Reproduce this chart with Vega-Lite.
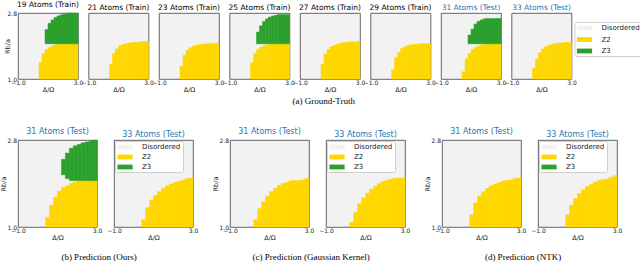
{
"$schema":"https://vega.github.io/schema/vega-lite/v6.json",
"padding":{"left":0,"top":0,"right":0,"bottom":0},
"align":"none",
"data":{"name":"cells"},
"datasets":{"cells":[
{"p":"a19","c":"Z2","x":0.4,"x2":0.6,"y":1,"y2":1.45},{"p":"a19","c":"Z2","x":0.6,"x2":0.8,"y":1,"y2":1.7},{"p":"a19","c":"Z2","x":0.8,"x2":1.0,"y":1,"y2":1.8},{"p":"a19","c":"Z2","x":1.0,"x2":1.2,"y":1,"y2":1.86},{"p":"a19","c":"Z2","x":1.2,"x2":1.4,"y":1,"y2":1.9},{"p":"a19","c":"Z2","x":1.4,"x2":1.6,"y":1,"y2":1.93},{"p":"a19","c":"Z2","x":1.6,"x2":2.0,"y":1,"y2":1.95},{"p":"a19","c":"Z2","x":2.0,"x2":3.0,"y":1,"y2":1.96},
{"p":"a19","c":"Z3","x":0.8,"x2":1.0,"y":1.96,"y2":2.35},{"p":"a19","c":"Z3","x":1.0,"x2":1.2,"y":1.96,"y2":2.52},{"p":"a19","c":"Z3","x":1.2,"x2":1.4,"y":1.96,"y2":2.61},{"p":"a19","c":"Z3","x":1.4,"x2":1.6,"y":1.96,"y2":2.68},{"p":"a19","c":"Z3","x":1.6,"x2":1.8,"y":1.96,"y2":2.72},{"p":"a19","c":"Z3","x":1.8,"x2":2.0,"y":1.96,"y2":2.75},{"p":"a19","c":"Z3","x":2.0,"x2":2.2,"y":1.96,"y2":2.77},{"p":"a19","c":"Z3","x":2.2,"x2":3.0,"y":1.96,"y2":2.8},
{"p":"a21","c":"Z2","x":0.4,"x2":0.6,"y":1,"y2":1.4},{"p":"a21","c":"Z2","x":0.6,"x2":0.8,"y":1,"y2":1.7},{"p":"a21","c":"Z2","x":0.8,"x2":1.0,"y":1,"y2":1.82},{"p":"a21","c":"Z2","x":1.0,"x2":1.2,"y":1,"y2":1.9},{"p":"a21","c":"Z2","x":1.2,"x2":1.4,"y":1,"y2":1.94},{"p":"a21","c":"Z2","x":1.4,"x2":1.6,"y":1,"y2":1.96},{"p":"a21","c":"Z2","x":1.6,"x2":1.8,"y":1,"y2":1.98},{"p":"a21","c":"Z2","x":1.8,"x2":2.0,"y":1,"y2":1.99},{"p":"a21","c":"Z2","x":2.0,"x2":2.4,"y":1,"y2":2.0},{"p":"a21","c":"Z2","x":2.4,"x2":3.0,"y":1,"y2":2.02},
{"p":"a23","c":"Z2","x":0.4,"x2":0.6,"y":1,"y2":1.35},{"p":"a23","c":"Z2","x":0.6,"x2":0.8,"y":1,"y2":1.65},{"p":"a23","c":"Z2","x":0.8,"x2":1.0,"y":1,"y2":1.78},{"p":"a23","c":"Z2","x":1.0,"x2":1.2,"y":1,"y2":1.85},{"p":"a23","c":"Z2","x":1.2,"x2":1.4,"y":1,"y2":1.89},{"p":"a23","c":"Z2","x":1.4,"x2":1.6,"y":1,"y2":1.92},{"p":"a23","c":"Z2","x":1.6,"x2":1.8,"y":1,"y2":1.94},{"p":"a23","c":"Z2","x":1.8,"x2":2.2,"y":1,"y2":1.95},{"p":"a23","c":"Z2","x":2.2,"x2":3.0,"y":1,"y2":1.97},
{"p":"a25","c":"Z2","x":0.4,"x2":0.6,"y":1,"y2":1.45},{"p":"a25","c":"Z2","x":0.6,"x2":0.8,"y":1,"y2":1.7},{"p":"a25","c":"Z2","x":0.8,"x2":1.0,"y":1,"y2":1.8},{"p":"a25","c":"Z2","x":1.0,"x2":1.2,"y":1,"y2":1.87},{"p":"a25","c":"Z2","x":1.2,"x2":1.4,"y":1,"y2":1.91},{"p":"a25","c":"Z2","x":1.4,"x2":1.6,"y":1,"y2":1.93},{"p":"a25","c":"Z2","x":1.6,"x2":1.8,"y":1,"y2":1.95},{"p":"a25","c":"Z2","x":1.8,"x2":3.0,"y":1,"y2":1.96},
{"p":"a25","c":"Z3","x":0.8,"x2":1.0,"y":1.96,"y2":2.28},{"p":"a25","c":"Z3","x":1.0,"x2":1.2,"y":1.96,"y2":2.45},{"p":"a25","c":"Z3","x":1.2,"x2":1.4,"y":1.96,"y2":2.57},{"p":"a25","c":"Z3","x":1.4,"x2":1.6,"y":1.96,"y2":2.64},{"p":"a25","c":"Z3","x":1.6,"x2":1.8,"y":1.96,"y2":2.69},{"p":"a25","c":"Z3","x":1.8,"x2":2.0,"y":1.96,"y2":2.72},{"p":"a25","c":"Z3","x":2.0,"x2":2.2,"y":1.96,"y2":2.74},{"p":"a25","c":"Z3","x":2.2,"x2":3.0,"y":1.96,"y2":2.76},
{"p":"a27","c":"Z2","x":0.4,"x2":0.6,"y":1,"y2":1.4},{"p":"a27","c":"Z2","x":0.6,"x2":0.8,"y":1,"y2":1.68},{"p":"a27","c":"Z2","x":0.8,"x2":1.0,"y":1,"y2":1.8},{"p":"a27","c":"Z2","x":1.0,"x2":1.2,"y":1,"y2":1.88},{"p":"a27","c":"Z2","x":1.2,"x2":1.4,"y":1,"y2":1.92},{"p":"a27","c":"Z2","x":1.4,"x2":1.6,"y":1,"y2":1.95},{"p":"a27","c":"Z2","x":1.6,"x2":1.8,"y":1,"y2":1.97},{"p":"a27","c":"Z2","x":1.8,"x2":2.0,"y":1,"y2":1.99},{"p":"a27","c":"Z2","x":2.0,"x2":2.4,"y":1,"y2":2.0},{"p":"a27","c":"Z2","x":2.4,"x2":3.0,"y":1,"y2":2.02},
{"p":"a29","c":"Z2","x":0.4,"x2":0.6,"y":1,"y2":1.25},{"p":"a29","c":"Z2","x":0.6,"x2":0.8,"y":1,"y2":1.58},{"p":"a29","c":"Z2","x":0.8,"x2":1.0,"y":1,"y2":1.72},{"p":"a29","c":"Z2","x":1.0,"x2":1.2,"y":1,"y2":1.83},{"p":"a29","c":"Z2","x":1.2,"x2":1.4,"y":1,"y2":1.88},{"p":"a29","c":"Z2","x":1.4,"x2":1.6,"y":1,"y2":1.91},{"p":"a29","c":"Z2","x":1.6,"x2":1.8,"y":1,"y2":1.93},{"p":"a29","c":"Z2","x":1.8,"x2":2.2,"y":1,"y2":1.95},{"p":"a29","c":"Z2","x":2.2,"x2":3.0,"y":1,"y2":1.96},
{"p":"a31","c":"Z2","x":0.4,"x2":0.6,"y":1,"y2":1.2},{"p":"a31","c":"Z2","x":0.6,"x2":0.8,"y":1,"y2":1.55},{"p":"a31","c":"Z2","x":0.8,"x2":1.0,"y":1,"y2":1.7},{"p":"a31","c":"Z2","x":1.0,"x2":1.2,"y":1,"y2":1.8},{"p":"a31","c":"Z2","x":1.2,"x2":1.4,"y":1,"y2":1.86},{"p":"a31","c":"Z2","x":1.4,"x2":1.6,"y":1,"y2":1.9},{"p":"a31","c":"Z2","x":1.6,"x2":1.8,"y":1,"y2":1.93},{"p":"a31","c":"Z2","x":1.8,"x2":2.0,"y":1,"y2":1.94},{"p":"a31","c":"Z2","x":2.0,"x2":3.0,"y":1,"y2":1.96},
{"p":"a31","c":"Z3","x":0.8,"x2":1.0,"y":1.96,"y2":2.2},{"p":"a31","c":"Z3","x":1.0,"x2":1.2,"y":1.96,"y2":2.36},{"p":"a31","c":"Z3","x":1.2,"x2":1.4,"y":1.96,"y2":2.5},{"p":"a31","c":"Z3","x":1.4,"x2":1.6,"y":1.96,"y2":2.57},{"p":"a31","c":"Z3","x":1.6,"x2":1.8,"y":1.96,"y2":2.61},{"p":"a31","c":"Z3","x":1.8,"x2":2.0,"y":1.96,"y2":2.64},{"p":"a31","c":"Z3","x":2.0,"x2":3.0,"y":1.96,"y2":2.65},
{"p":"a33","c":"Z2","x":0.4,"x2":0.6,"y":1,"y2":1.3},{"p":"a33","c":"Z2","x":0.6,"x2":0.8,"y":1,"y2":1.55},{"p":"a33","c":"Z2","x":0.8,"x2":1.0,"y":1,"y2":1.72},{"p":"a33","c":"Z2","x":1.0,"x2":1.2,"y":1,"y2":1.82},{"p":"a33","c":"Z2","x":1.2,"x2":1.4,"y":1,"y2":1.88},{"p":"a33","c":"Z2","x":1.4,"x2":1.6,"y":1,"y2":1.92},{"p":"a33","c":"Z2","x":1.6,"x2":1.8,"y":1,"y2":1.94},{"p":"a33","c":"Z2","x":1.8,"x2":2.0,"y":1,"y2":1.96},{"p":"a33","c":"Z2","x":2.0,"x2":2.4,"y":1,"y2":1.98},{"p":"a33","c":"Z2","x":2.4,"x2":3.0,"y":1,"y2":2.0},
{"p":"b31","c":"Z2","x":0.4,"x2":0.6,"y":1,"y2":1.2},{"p":"b31","c":"Z2","x":0.6,"x2":0.8,"y":1,"y2":1.45},{"p":"b31","c":"Z2","x":0.8,"x2":1.0,"y":1,"y2":1.62},{"p":"b31","c":"Z2","x":1.0,"x2":1.2,"y":1,"y2":1.74},{"p":"b31","c":"Z2","x":1.2,"x2":1.4,"y":1,"y2":1.82},{"p":"b31","c":"Z2","x":1.4,"x2":1.6,"y":1,"y2":1.86},{"p":"b31","c":"Z2","x":1.6,"x2":1.8,"y":1,"y2":1.9},{"p":"b31","c":"Z2","x":1.8,"x2":2.0,"y":1,"y2":1.93},{"p":"b31","c":"Z2","x":2.0,"x2":2.2,"y":1,"y2":1.95},{"p":"b31","c":"Z2","x":2.2,"x2":3.0,"y":1,"y2":1.96},
{"p":"b31","c":"Z3","x":1.2,"x2":1.4,"y":2.08,"y2":2.4},{"p":"b31","c":"Z3","x":1.4,"x2":1.6,"y":2.0,"y2":2.53},{"p":"b31","c":"Z3","x":1.6,"x2":1.8,"y":1.96,"y2":2.63},{"p":"b31","c":"Z3","x":1.8,"x2":2.0,"y":1.96,"y2":2.68},{"p":"b31","c":"Z3","x":2.0,"x2":2.2,"y":1.96,"y2":2.71},{"p":"b31","c":"Z3","x":2.2,"x2":2.4,"y":1.96,"y2":2.74},{"p":"b31","c":"Z3","x":2.4,"x2":2.6,"y":1.96,"y2":2.76},{"p":"b31","c":"Z3","x":2.6,"x2":2.8,"y":1.96,"y2":2.78},{"p":"b31","c":"Z3","x":2.8,"x2":3.0,"y":1.96,"y2":2.8},
{"p":"b33","c":"Z2","x":0.4,"x2":0.6,"y":1,"y2":1.15},{"p":"b33","c":"Z2","x":0.6,"x2":0.8,"y":1,"y2":1.4},{"p":"b33","c":"Z2","x":0.8,"x2":1.0,"y":1,"y2":1.56},{"p":"b33","c":"Z2","x":1.0,"x2":1.2,"y":1,"y2":1.65},{"p":"b33","c":"Z2","x":1.2,"x2":1.4,"y":1,"y2":1.73},{"p":"b33","c":"Z2","x":1.4,"x2":1.6,"y":1,"y2":1.8},{"p":"b33","c":"Z2","x":1.6,"x2":1.8,"y":1,"y2":1.85},{"p":"b33","c":"Z2","x":1.8,"x2":2.0,"y":1,"y2":1.89},{"p":"b33","c":"Z2","x":2.0,"x2":2.2,"y":1,"y2":1.92},{"p":"b33","c":"Z2","x":2.2,"x2":2.4,"y":1,"y2":1.95},{"p":"b33","c":"Z2","x":2.4,"x2":2.6,"y":1,"y2":1.97},{"p":"b33","c":"Z2","x":2.6,"x2":2.8,"y":1,"y2":2.0},{"p":"b33","c":"Z2","x":2.8,"x2":3.0,"y":1,"y2":2.01},
{"p":"c31","c":"Z2","x":0.2,"x2":0.4,"y":1,"y2":1.15},{"p":"c31","c":"Z2","x":0.4,"x2":0.6,"y":1,"y2":1.38},{"p":"c31","c":"Z2","x":0.6,"x2":0.8,"y":1,"y2":1.52},{"p":"c31","c":"Z2","x":0.8,"x2":1.0,"y":1,"y2":1.64},{"p":"c31","c":"Z2","x":1.0,"x2":1.2,"y":1,"y2":1.73},{"p":"c31","c":"Z2","x":1.2,"x2":1.4,"y":1,"y2":1.8},{"p":"c31","c":"Z2","x":1.4,"x2":1.6,"y":1,"y2":1.86},{"p":"c31","c":"Z2","x":1.6,"x2":1.8,"y":1,"y2":1.9},{"p":"c31","c":"Z2","x":1.8,"x2":2.0,"y":1,"y2":1.93},{"p":"c31","c":"Z2","x":2.0,"x2":2.6,"y":1,"y2":1.96},{"p":"c31","c":"Z2","x":2.6,"x2":2.8,"y":1,"y2":1.97},{"p":"c31","c":"Z2","x":2.8,"x2":3.0,"y":1,"y2":2.01},
{"p":"c33","c":"Z2","x":0.2,"x2":0.4,"y":1,"y2":1.1},{"p":"c33","c":"Z2","x":0.4,"x2":0.6,"y":1,"y2":1.3},{"p":"c33","c":"Z2","x":0.6,"x2":0.8,"y":1,"y2":1.48},{"p":"c33","c":"Z2","x":0.8,"x2":1.0,"y":1,"y2":1.6},{"p":"c33","c":"Z2","x":1.0,"x2":1.2,"y":1,"y2":1.7},{"p":"c33","c":"Z2","x":1.2,"x2":1.4,"y":1,"y2":1.78},{"p":"c33","c":"Z2","x":1.4,"x2":1.6,"y":1,"y2":1.84},{"p":"c33","c":"Z2","x":1.6,"x2":1.8,"y":1,"y2":1.9},{"p":"c33","c":"Z2","x":1.8,"x2":2.0,"y":1,"y2":1.94},{"p":"c33","c":"Z2","x":2.0,"x2":2.2,"y":1,"y2":1.97},{"p":"c33","c":"Z2","x":2.2,"x2":2.4,"y":1,"y2":1.99},{"p":"c33","c":"Z2","x":2.4,"x2":3.0,"y":1,"y2":2.01},
{"p":"d31","c":"Z2","x":0.4,"x2":0.6,"y":1,"y2":1.25},{"p":"d31","c":"Z2","x":0.6,"x2":0.8,"y":1,"y2":1.5},{"p":"d31","c":"Z2","x":0.8,"x2":1.0,"y":1,"y2":1.64},{"p":"d31","c":"Z2","x":1.0,"x2":1.2,"y":1,"y2":1.73},{"p":"d31","c":"Z2","x":1.2,"x2":1.4,"y":1,"y2":1.8},{"p":"d31","c":"Z2","x":1.4,"x2":1.6,"y":1,"y2":1.85},{"p":"d31","c":"Z2","x":1.6,"x2":1.8,"y":1,"y2":1.89},{"p":"d31","c":"Z2","x":1.8,"x2":2.0,"y":1,"y2":1.92},{"p":"d31","c":"Z2","x":2.0,"x2":2.2,"y":1,"y2":1.95},{"p":"d31","c":"Z2","x":2.2,"x2":2.6,"y":1,"y2":1.97},{"p":"d31","c":"Z2","x":2.6,"x2":3.0,"y":1,"y2":2.01},
{"p":"d33","c":"Z2","x":0.4,"x2":0.6,"y":1,"y2":1.25},{"p":"d33","c":"Z2","x":0.6,"x2":0.8,"y":1,"y2":1.45},{"p":"d33","c":"Z2","x":0.8,"x2":1.0,"y":1,"y2":1.59},{"p":"d33","c":"Z2","x":1.0,"x2":1.2,"y":1,"y2":1.69},{"p":"d33","c":"Z2","x":1.2,"x2":1.4,"y":1,"y2":1.77},{"p":"d33","c":"Z2","x":1.4,"x2":1.6,"y":1,"y2":1.84},{"p":"d33","c":"Z2","x":1.6,"x2":1.8,"y":1,"y2":1.88},{"p":"d33","c":"Z2","x":1.8,"x2":2.0,"y":1,"y2":1.93},{"p":"d33","c":"Z2","x":2.0,"x2":2.2,"y":1,"y2":1.96},{"p":"d33","c":"Z2","x":2.2,"x2":2.4,"y":1,"y2":1.98},{"p":"d33","c":"Z2","x":2.4,"x2":2.6,"y":1,"y2":1.99},{"p":"d33","c":"Z2","x":2.6,"x2":2.8,"y":1,"y2":2.03},{"p":"d33","c":"Z2","x":2.8,"x2":3.0,"y":1,"y2":2.06}
]},
"config":{
"font":"DejaVu Sans",
"view":{"fill":"#f2f2f2","stroke":"#404040","strokeWidth":0.8},
"axis":{"grid":false,"domain":false,"ticks":false,"labelFontSize":6,"titleFontSize":6.5,"titleFontWeight":"normal","labelColor":"#222222","titleColor":"#222222","labelFlush":false,"labelOverlap":false,"labelPadding":1.5,"titlePadding":0.5},
"axisX":{"labelPadding":0.5},
"title":{"fontSize":7.5,"fontWeight":"normal","offset":1.5,"color":"#000000","font":"DejaVu Sans"},
"legend":{"symbolType":"M-1.9,-0.6H1.9V0.6H-1.9Z","symbolSize":64,"symbolOffset":4,"labelOffset":13,"padding":2,"labelFontSize":7,"labelColor":"#222222","strokeColor":"#d0d0d0","fillColor":"#ffffff","cornerRadius":2,"rowPadding":3,"symbolStrokeWidth":0}
},
"resolve":{"scale":{"color":"independent","stroke":"independent"},"legend":{"color":"independent"}},
"spacing":21,
"vconcat":[
{"hconcat":[
{"width":60,"height":66,"title":{"text":"19 Atoms (Train)"},"transform":[{"filter":"datum.p=='a19'"}],"mark":{"type":"rect","strokeWidth":0.5},
"encoding":{"x":{"field":"x","type":"quantitative","scale":{"domain":[-1,3],"nice":false,"zero":false},"axis":{"values":[-1,3],"format":".1f","title":"Δ/Ω"}},"x2":{"field":"x2"},
"y":{"field":"y","type":"quantitative","scale":{"domain":[1,2.8],"nice":false,"zero":false},"axis":{"values":[1,2.8],"format":".1f","title":"Rb/a","titlePadding":-3.5}},"y2":{"field":"y2"},
"color":{"field":"c","type":"nominal","scale":{"domain":["Disordered","Z2","Z3"],"range":["#f2f2f2","#ffd700","#2ca02c"]},"legend":null},
"stroke":{"field":"c","type":"nominal","scale":{"domain":["Disordered","Z2","Z3"],"range":["#f2f2f2","#ffd700","#2ca02c"]},"legend":null}}},
{"width":60,"height":66,"title":{"text":"21 Atoms (Train)"},"transform":[{"filter":"datum.p=='a21'"}],"mark":{"type":"rect","strokeWidth":0.5},
"encoding":{"x":{"field":"x","type":"quantitative","scale":{"domain":[-1,3],"nice":false,"zero":false},"axis":{"values":[-1,3],"format":".1f","title":"Δ/Ω"}},"x2":{"field":"x2"},
"y":{"field":"y","type":"quantitative","scale":{"domain":[1,2.8],"nice":false,"zero":false},"axis":null},"y2":{"field":"y2"},
"color":{"field":"c","type":"nominal","scale":{"domain":["Disordered","Z2","Z3"],"range":["#f2f2f2","#ffd700","#2ca02c"]},"legend":null},
"stroke":{"field":"c","type":"nominal","scale":{"domain":["Disordered","Z2","Z3"],"range":["#f2f2f2","#ffd700","#2ca02c"]},"legend":null}}},
{"width":60,"height":66,"title":{"text":"23 Atoms (Train)"},"transform":[{"filter":"datum.p=='a23'"}],"mark":{"type":"rect","strokeWidth":0.5},
"encoding":{"x":{"field":"x","type":"quantitative","scale":{"domain":[-1,3],"nice":false,"zero":false},"axis":{"values":[-1,3],"format":".1f","title":"Δ/Ω"}},"x2":{"field":"x2"},
"y":{"field":"y","type":"quantitative","scale":{"domain":[1,2.8],"nice":false,"zero":false},"axis":null},"y2":{"field":"y2"},
"color":{"field":"c","type":"nominal","scale":{"domain":["Disordered","Z2","Z3"],"range":["#f2f2f2","#ffd700","#2ca02c"]},"legend":null},
"stroke":{"field":"c","type":"nominal","scale":{"domain":["Disordered","Z2","Z3"],"range":["#f2f2f2","#ffd700","#2ca02c"]},"legend":null}}},
{"width":60,"height":66,"title":{"text":"25 Atoms (Train)"},"transform":[{"filter":"datum.p=='a25'"}],"mark":{"type":"rect","strokeWidth":0.5},
"encoding":{"x":{"field":"x","type":"quantitative","scale":{"domain":[-1,3],"nice":false,"zero":false},"axis":{"values":[-1,3],"format":".1f","title":"Δ/Ω"}},"x2":{"field":"x2"},
"y":{"field":"y","type":"quantitative","scale":{"domain":[1,2.8],"nice":false,"zero":false},"axis":null},"y2":{"field":"y2"},
"color":{"field":"c","type":"nominal","scale":{"domain":["Disordered","Z2","Z3"],"range":["#f2f2f2","#ffd700","#2ca02c"]},"legend":null},
"stroke":{"field":"c","type":"nominal","scale":{"domain":["Disordered","Z2","Z3"],"range":["#f2f2f2","#ffd700","#2ca02c"]},"legend":null}}},
{"width":60,"height":66,"title":{"text":"27 Atoms (Train)"},"transform":[{"filter":"datum.p=='a27'"}],"mark":{"type":"rect","strokeWidth":0.5},
"encoding":{"x":{"field":"x","type":"quantitative","scale":{"domain":[-1,3],"nice":false,"zero":false},"axis":{"values":[-1,3],"format":".1f","title":"Δ/Ω"}},"x2":{"field":"x2"},
"y":{"field":"y","type":"quantitative","scale":{"domain":[1,2.8],"nice":false,"zero":false},"axis":null},"y2":{"field":"y2"},
"color":{"field":"c","type":"nominal","scale":{"domain":["Disordered","Z2","Z3"],"range":["#f2f2f2","#ffd700","#2ca02c"]},"legend":null},
"stroke":{"field":"c","type":"nominal","scale":{"domain":["Disordered","Z2","Z3"],"range":["#f2f2f2","#ffd700","#2ca02c"]},"legend":null}}},
{"width":60,"height":66,"title":{"text":"29 Atoms (Train)"},"transform":[{"filter":"datum.p=='a29'"}],"mark":{"type":"rect","strokeWidth":0.5},
"encoding":{"x":{"field":"x","type":"quantitative","scale":{"domain":[-1,3],"nice":false,"zero":false},"axis":{"values":[-1,3],"format":".1f","title":"Δ/Ω"}},"x2":{"field":"x2"},
"y":{"field":"y","type":"quantitative","scale":{"domain":[1,2.8],"nice":false,"zero":false},"axis":null},"y2":{"field":"y2"},
"color":{"field":"c","type":"nominal","scale":{"domain":["Disordered","Z2","Z3"],"range":["#f2f2f2","#ffd700","#2ca02c"]},"legend":null},
"stroke":{"field":"c","type":"nominal","scale":{"domain":["Disordered","Z2","Z3"],"range":["#f2f2f2","#ffd700","#2ca02c"]},"legend":null}}},
{"width":60,"height":66,"title":{"text":"31 Atoms (Test)","color":"#1f77b4"},"transform":[{"filter":"datum.p=='a31'"}],"mark":{"type":"rect","strokeWidth":0.5},
"encoding":{"x":{"field":"x","type":"quantitative","scale":{"domain":[-1,3],"nice":false,"zero":false},"axis":{"values":[-1,3],"format":".1f","title":"Δ/Ω"}},"x2":{"field":"x2"},
"y":{"field":"y","type":"quantitative","scale":{"domain":[1,2.8],"nice":false,"zero":false},"axis":null},"y2":{"field":"y2"},
"color":{"field":"c","type":"nominal","scale":{"domain":["Disordered","Z2","Z3"],"range":["#f2f2f2","#ffd700","#2ca02c"]},"legend":null},
"stroke":{"field":"c","type":"nominal","scale":{"domain":["Disordered","Z2","Z3"],"range":["#f2f2f2","#ffd700","#2ca02c"]},"legend":null}}},
{"width":60,"height":66,"title":{"text":"33 Atoms (Test)","color":"#1f77b4"},"transform":[{"filter":"datum.p=='a33'"}],"mark":{"type":"rect","strokeWidth":0.5},
"encoding":{"x":{"field":"x","type":"quantitative","scale":{"domain":[-1,3],"nice":false,"zero":false},"axis":{"values":[-1,3],"format":".1f","title":"Δ/Ω"}},"x2":{"field":"x2"},
"y":{"field":"y","type":"quantitative","scale":{"domain":[1,2.8],"nice":false,"zero":false},"axis":null},"y2":{"field":"y2"},
"color":{"field":"c","type":"nominal","scale":{"domain":["Disordered","Z2","Z3"],"range":["#f2f2f2","#ffd700","#2ca02c"]},"legend":{"orient":"none","legendX":63,"legendY":9,"title":null,"rowPadding":4.5}},
"stroke":{"field":"c","type":"nominal","scale":{"domain":["Disordered","Z2","Z3"],"range":["#f2f2f2","#ffd700","#2ca02c"]},"legend":null}}}
],"spacing":10.5,"bounds":"flush","resolve":{"scale":{"color":"independent","stroke":"independent"},"legend":{"color":"independent"}},
"title":{"text":"(a) Ground-Truth","orient":"bottom","anchor":"middle","font":"Liberation Serif","fontSize":9,"offset":4}},
{"hconcat":[
{"hconcat":[
{"width":79,"height":87,"title":{"text":"31 Atoms (Test)","color":"#1f77b4","fontSize":8},"transform":[{"filter":"datum.p=='b31'"}],"mark":{"type":"rect","strokeWidth":0.5},
"encoding":{"x":{"field":"x","type":"quantitative","scale":{"domain":[-1,3],"nice":false,"zero":false},"axis":{"values":[-1,3],"format":".1f","title":"Δ/Ω"}},"x2":{"field":"x2"},
"y":{"field":"y","type":"quantitative","scale":{"domain":[1,2.8],"nice":false,"zero":false},"axis":{"values":[1,2.8],"format":".1f","title":"Rb/a"}},"y2":{"field":"y2"},
"color":{"field":"c","type":"nominal","scale":{"domain":["Disordered","Z2","Z3"],"range":["#f2f2f2","#ffd700","#2ca02c"]},"legend":null},
"stroke":{"field":"c","type":"nominal","scale":{"domain":["Disordered","Z2","Z3"],"range":["#f2f2f2","#ffd700","#2ca02c"]},"legend":null}}},
{"width":79,"height":87,"title":{"text":"33 Atoms (Test)","color":"#1f77b4","fontSize":8},"transform":[{"filter":"datum.p=='b33'"}],"mark":{"type":"rect","strokeWidth":0.5},
"encoding":{"x":{"field":"x","type":"quantitative","scale":{"domain":[-1,3],"nice":false,"zero":false},"axis":{"values":[-1,3],"format":".1f","title":"Δ/Ω"}},"x2":{"field":"x2"},
"y":{"field":"y","type":"quantitative","scale":{"domain":[1,2.8],"nice":false,"zero":false},"axis":null},"y2":{"field":"y2"},
"color":{"field":"c","type":"nominal","scale":{"domain":["Disordered","Z2","Z3"],"range":["#f2f2f2","#ffd700","#2ca02c"]},"legend":{"orient":"top-left","offset":1,"title":null}},
"stroke":{"field":"c","type":"nominal","scale":{"domain":["Disordered","Z2","Z3"],"range":["#f2f2f2","#ffd700","#2ca02c"]},"legend":null}}}
],"spacing":17,"bounds":"flush","resolve":{"scale":{"color":"independent","stroke":"independent"},"legend":{"color":"independent"}},
"title":{"text":"(b) Prediction (Ours)","orient":"bottom","anchor":"middle","font":"Liberation Serif","fontSize":9,"offset":12}},
{"hconcat":[
{"width":79,"height":87,"title":{"text":"31 Atoms (Test)","color":"#1f77b4","fontSize":8},"transform":[{"filter":"datum.p=='c31'"}],"mark":{"type":"rect","strokeWidth":0.5},
"encoding":{"x":{"field":"x","type":"quantitative","scale":{"domain":[-1,3],"nice":false,"zero":false},"axis":{"values":[-1,3],"format":".1f","title":"Δ/Ω"}},"x2":{"field":"x2"},
"y":{"field":"y","type":"quantitative","scale":{"domain":[1,2.8],"nice":false,"zero":false},"axis":{"values":[1,2.8],"format":".1f","title":"Rb/a"}},"y2":{"field":"y2"},
"color":{"field":"c","type":"nominal","scale":{"domain":["Disordered","Z2","Z3"],"range":["#f2f2f2","#ffd700","#2ca02c"]},"legend":null},
"stroke":{"field":"c","type":"nominal","scale":{"domain":["Disordered","Z2","Z3"],"range":["#f2f2f2","#ffd700","#2ca02c"]},"legend":null}}},
{"width":79,"height":87,"title":{"text":"33 Atoms (Test)","color":"#1f77b4","fontSize":8},"transform":[{"filter":"datum.p=='c33'"}],"mark":{"type":"rect","strokeWidth":0.5},
"encoding":{"x":{"field":"x","type":"quantitative","scale":{"domain":[-1,3],"nice":false,"zero":false},"axis":{"values":[-1,3],"format":".1f","title":"Δ/Ω"}},"x2":{"field":"x2"},
"y":{"field":"y","type":"quantitative","scale":{"domain":[1,2.8],"nice":false,"zero":false},"axis":null},"y2":{"field":"y2"},
"color":{"field":"c","type":"nominal","scale":{"domain":["Disordered","Z2","Z3"],"range":["#f2f2f2","#ffd700","#2ca02c"]},"legend":{"orient":"top-left","offset":1,"title":null}},
"stroke":{"field":"c","type":"nominal","scale":{"domain":["Disordered","Z2","Z3"],"range":["#f2f2f2","#ffd700","#2ca02c"]},"legend":null}}}
],"spacing":17,"bounds":"flush","resolve":{"scale":{"color":"independent","stroke":"independent"},"legend":{"color":"independent"}},
"title":{"text":"(c) Prediction (Gaussian Kernel)","orient":"bottom","anchor":"middle","font":"Liberation Serif","fontSize":9,"offset":12}},
{"hconcat":[
{"width":79,"height":87,"title":{"text":"31 Atoms (Test)","color":"#1f77b4","fontSize":8},"transform":[{"filter":"datum.p=='d31'"}],"mark":{"type":"rect","strokeWidth":0.5},
"encoding":{"x":{"field":"x","type":"quantitative","scale":{"domain":[-1,3],"nice":false,"zero":false},"axis":{"values":[-1,3],"format":".1f","title":"Δ/Ω"}},"x2":{"field":"x2"},
"y":{"field":"y","type":"quantitative","scale":{"domain":[1,2.8],"nice":false,"zero":false},"axis":{"values":[1,2.8],"format":".1f","title":"Rb/a"}},"y2":{"field":"y2"},
"color":{"field":"c","type":"nominal","scale":{"domain":["Disordered","Z2","Z3"],"range":["#f2f2f2","#ffd700","#2ca02c"]},"legend":null},
"stroke":{"field":"c","type":"nominal","scale":{"domain":["Disordered","Z2","Z3"],"range":["#f2f2f2","#ffd700","#2ca02c"]},"legend":null}}},
{"width":79,"height":87,"title":{"text":"33 Atoms (Test)","color":"#1f77b4","fontSize":8},"transform":[{"filter":"datum.p=='d33'"}],"mark":{"type":"rect","strokeWidth":0.5},
"encoding":{"x":{"field":"x","type":"quantitative","scale":{"domain":[-1,3],"nice":false,"zero":false},"axis":{"values":[-1,3],"format":".1f","title":"Δ/Ω"}},"x2":{"field":"x2"},
"y":{"field":"y","type":"quantitative","scale":{"domain":[1,2.8],"nice":false,"zero":false},"axis":null},"y2":{"field":"y2"},
"color":{"field":"c","type":"nominal","scale":{"domain":["Disordered","Z2","Z3"],"range":["#f2f2f2","#ffd700","#2ca02c"]},"legend":{"orient":"top-left","offset":1,"title":null}},
"stroke":{"field":"c","type":"nominal","scale":{"domain":["Disordered","Z2","Z3"],"range":["#f2f2f2","#ffd700","#2ca02c"]},"legend":null}}}
],"spacing":17,"bounds":"flush","resolve":{"scale":{"color":"independent","stroke":"independent"},"legend":{"color":"independent"}},
"title":{"text":"(d) Prediction (NTK)","orient":"bottom","anchor":"middle","font":"Liberation Serif","fontSize":9,"offset":12}}
],"spacing":13,"resolve":{"scale":{"color":"independent","stroke":"independent"},"legend":{"color":"independent"}}}
]
}
